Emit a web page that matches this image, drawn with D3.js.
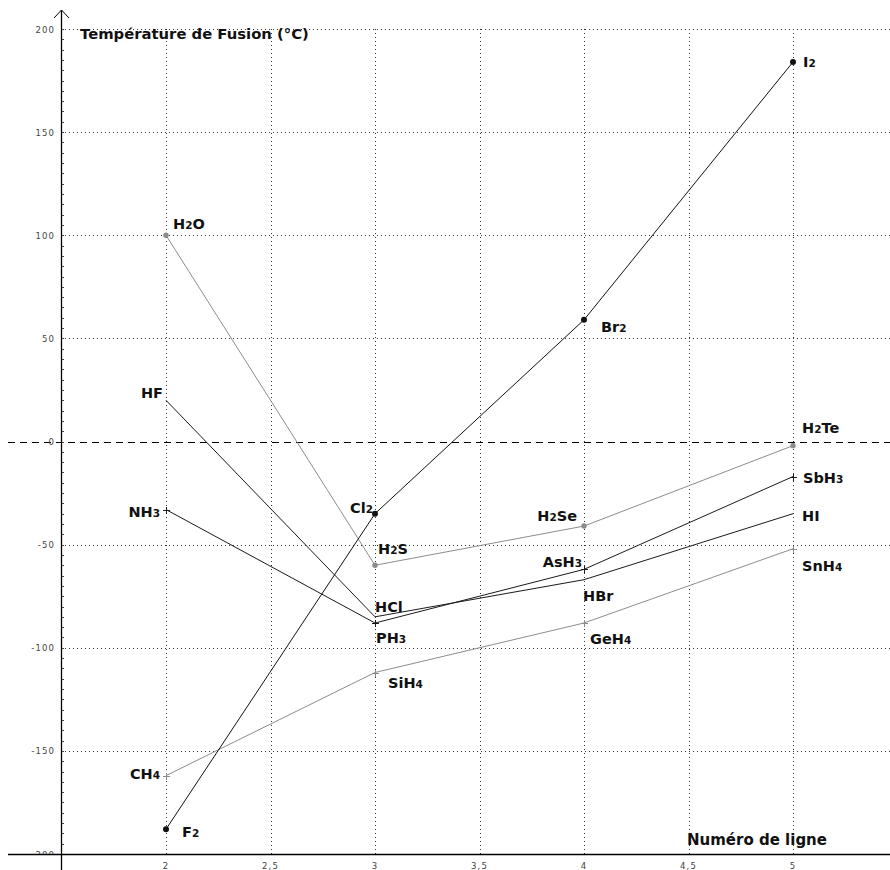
<!DOCTYPE html>
<html>
<head>
<meta charset="utf-8">
<script src="https://cdn.jsdelivr.net/npm/d3@7/dist/d3.min.js"></script>
<style>
  html, body { margin: 0; padding: 0; background: #fff; }
  svg { display: block; }
</style>
</head>
<body>
<svg id="chart" width="890" height="870"></svg>
<script>
// ---- data ----
const rows = [2, 3, 4, 5];
const xTicks = [2, 2.5, 3, 3.5, 4, 4.5, 5];
const xTickLabels = ["2", "2,5", "3", "3,5", "4", "4,5", "5"];
const yTicks = [-200, -150, -100, -50, 0, 50, 100, 150, 200];
const yTickLabels = ["-200", "-150", "-100", "-50", "0", "50", "100", "150", "200"];

const halogens = [-188, -35, 59, 184];          // F2 Cl2 Br2 I2
const halogenNames = ["F2", "Cl2", "Br2", "I2"];
const chalcHydrides = [100, -60, -41, -2];      // H2O H2S H2Se H2Te
const chalcNames = ["H2O", "H2S", "H2Se", "H2Te"];
const halHydrides = [20, -85, -67, -35];        // HF HCl HBr HI
const halHydrideNames = ["HF", "HCl", "HBr", "HI"];
const pnicHydrides = [-33, -88, -62, -17];      // NH3 PH3 AsH3 SbH3
const pnicNames = ["NH3", "PH3", "AsH3", "SbH3"];
const group14Hydrides = [-162, -112, -88, -52]; // CH4 SiH4 GeH4 SnH4
const group14Names = ["CH4", "SiH4", "GeH4", "SnH4"];

const yTitle = "Température de Fusion (°C)";
const xTitle = "Numéro de ligne";

// ---- styling / label placement (pixels relative to the point) ----
const series = [
  { values: halHydrides, names: halHydrideNames, color: "#1a1a1a", marker: "none", r: 0,
    labels: [["end", -3, -2], ["start", 0, -5], ["start", -1, 21], ["start", 9, 7]] },
  { values: chalcHydrides, names: chalcNames, color: "#8c8c8c", marker: "circle", r: 2.7,
    labels: [["start", 7, -6], ["start", 3, -11], ["end", -7, -5], ["start", 9, -13]] },
  { values: pnicHydrides, names: pnicNames, color: "#1a1a1a", marker: "plus", r: 0,
    labels: [["end", -6, 7], ["start", 1, 20], ["end", -2, -2], ["start", 10, 6]] },
  { values: group14Hydrides, names: group14Names, color: "#8c8c8c", marker: "plus", r: 0,
    labels: [["end", -6, 3], ["start", 13, 15], ["start", 6, 21], ["start", 9, 22]] },
  { values: halogens, names: halogenNames, color: "#111", marker: "circle", r: 3,
    labels: [["start", 16, 8], ["end", -2, -1], ["start", 17, 12], ["start", 10, 5]] }
];

const svg = d3.select("#chart");
const x = d3.scaleLinear().domain([2, 5]).range([166, 793]);
const y = d3.scaleLinear().domain([-200, 200]).range([854, 29]);
const axisX = 61;
const xLeft = 8, xRight = 890;
const labelFont = "DejaVu Sans, Verdana, sans-serif";
const px = v => Math.round(v) + 0.5;

svg.append("defs").append("clipPath").attr("id", "aboveAxis")
  .append("rect").attr("x", 0).attr("y", 0).attr("width", 890).attr("height", Math.round(y(-200)));

// vertical dotted grid
svg.append("g").selectAll("line").data(xTicks).join("line")
  .attr("x1", d => px(x(d))).attr("x2", d => px(x(d)))
  .attr("y1", y(200)).attr("y2", y(-200))
  .attr("stroke", "#333").attr("stroke-width", 1)
  .attr("stroke-dasharray", "1,3");

// horizontal dotted grid
svg.append("g").selectAll("line").data(yTicks.filter(d => d !== 0 && d !== -200)).join("line")
  .attr("x1", axisX).attr("x2", xRight)
  .attr("y1", d => px(y(d))).attr("y2", d => px(y(d)))
  .attr("stroke", "#333").attr("stroke-width", 1)
  .attr("stroke-dasharray", "1,3");

// zero dashed line
svg.append("line")
  .attr("x1", xLeft).attr("x2", xRight)
  .attr("y1", px(y(0))).attr("y2", px(y(0)))
  .attr("stroke", "#000").attr("stroke-width", 1)
  .attr("stroke-dasharray", "7,5");

// y tick labels
svg.append("g").attr("clip-path", "url(#aboveAxis)")
  .selectAll("text").data(yTicks).join("text")
  .attr("x", axisX - 6).attr("y", d => y(d) + 3.5)
  .attr("text-anchor", "end")
  .attr("font-family", labelFont).attr("font-size", 8.5)
  .attr("letter-spacing", 1.1)
  .attr("fill", "#444")
  .text((d, i) => yTickLabels[i]);

// minor ticks on y axis
svg.append("g").selectAll("line").data(d3.range(-200, 201, 5)).join("line")
  .attr("x1", axisX + 1).attr("x2", axisX + 3)
  .attr("y1", d => px(y(d))).attr("y2", d => px(y(d)))
  .attr("stroke", "#444").attr("stroke-width", 1);

// axes
svg.append("line").attr("x1", xLeft).attr("x2", xRight)
  .attr("y1", px(y(-200))).attr("y2", px(y(-200)))
  .attr("stroke", "#000").attr("stroke-width", 1.3);
svg.append("line").attr("x1", axisX + 0.5).attr("x2", axisX + 0.5)
  .attr("y1", 10).attr("y2", 870)
  .attr("stroke", "#000").attr("stroke-width", 1.3);
svg.append("path")
  .attr("d", `M${axisX - 7},18 L${axisX + 0.5},10 L${axisX + 8},18`)
  .attr("fill", "none").attr("stroke", "#000").attr("stroke-width", 1);

// x tick labels
svg.append("g").selectAll("text").data(xTicks).join("text")
  .attr("x", d => x(d)).attr("y", y(-200) + 15)
  .attr("text-anchor", "middle")
  .attr("font-family", labelFont).attr("font-size", 8.5)
  .attr("letter-spacing", 1.1)
  .attr("fill", "#444")
  .text((d, i) => xTickLabels[i]);

// titles
svg.append("text").attr("x", 80).attr("y", 39)
  .attr("font-family", labelFont).attr("font-weight", 700).attr("font-size", 14.8)
  .attr("fill", "#111").text(yTitle);
svg.append("text").attr("x", 687).attr("y", 845)
  .attr("font-family", labelFont).attr("font-weight", 700).attr("font-size", 15)
  .attr("fill", "#111").text(xTitle);

// series
const line = d3.line().x((d, i) => x(rows[i])).y(d => y(d));
series.forEach(s => {
  svg.append("path").datum(s.values)
    .attr("d", line)
    .attr("fill", "none").attr("stroke", s.color).attr("stroke-width", 1);

  const g = svg.append("g");
  if (s.marker === "circle") {
    g.selectAll("circle").data(s.values).join("circle")
      .attr("cx", (d, i) => x(rows[i])).attr("cy", d => y(d)).attr("r", s.r)
      .attr("fill", s.color);
  } else if (s.marker === "plus") {
    g.selectAll("path").data(s.values).join("path")
      .attr("d", (d, i) => {
        const cx = Math.round(x(rows[i])) + 0.5, cy = Math.round(y(d)) + 0.5;
        return `M${cx - 3.5},${cy} L${cx + 3.5},${cy} M${cx},${cy - 3.5} L${cx},${cy + 3.5}`;
      })
      .attr("stroke", s.color).attr("stroke-width", 1);
  }

  s.names.forEach((name, i) => {
    const [anchor, dx, dy] = s.labels[i];
    const t = svg.append("text")
      .attr("x", x(rows[i]) + dx).attr("y", y(s.values[i]) + dy)
      .attr("text-anchor", anchor)
      .attr("font-family", labelFont).attr("font-weight", 700).attr("font-size", 14.5)
      .attr("fill", "#111");
    name.match(/[A-Za-z]+|\d+/g).forEach(p => {
      const ts = t.append("tspan").text(p);
      if (/\d/.test(p)) ts.attr("font-size", 10.5);
    });
  });
});
</script>
</body>
</html>
